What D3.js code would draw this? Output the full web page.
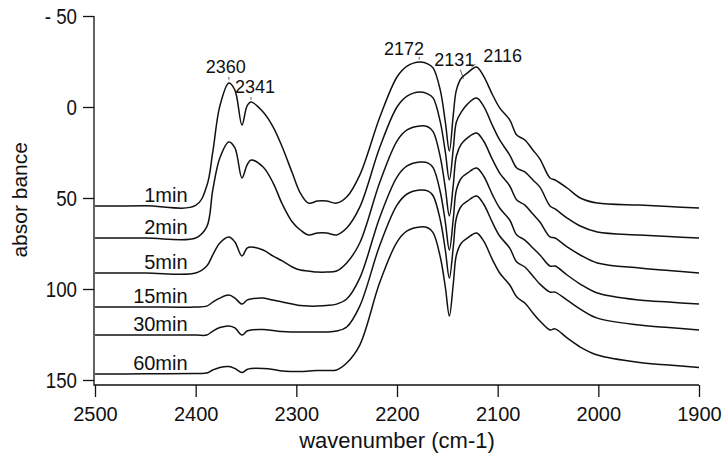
<!DOCTYPE html>
<html>
<head>
<meta charset="utf-8">
<script src="https://cdn.jsdelivr.net/npm/d3@7"></script>
<style>
  body { margin: 0; background: #fff; }
  svg text { font-family: "Liberation Sans", Arial, Helvetica, sans-serif; fill: #111; }
</style>
</head>
<body>
<div id="chart"></div>
<script>
// wavenumber grid (cm-1), shared by every spectrum
var wavenumbers = [2500, 2450, 2400, 2389, 2383, 2376, 2367, 2361, 2354, 2349, 2345,
                   2333, 2323, 2314, 2304, 2296, 2288, 2279, 2270, 2260, 2250,
                   2237, 2217, 2200, 2190, 2177, 2169, 2164, 2157, 2152, 2148,
                   2144, 2141, 2136, 2130, 2121, 2114, 2105, 2098, 2088, 2081,
                   2073, 2065, 2058, 2048, 2043, 2031, 2018, 2001, 1959, 1930, 1900];

var timeLabels = ["1min", "2min", "5min", "15min", "30min", "60min"];

// absorbance (plotted with offsets, axis inverted)
var abs1min = [54.4, 54.3, 54.1, 43.4, 24.7, -0.5, -13.2, -9.3, 9.9, -0.5, -2.7,
               2.7, 11.0, 22.0, 36.3, 47.3, 52.8, 51.7, 51.7, 52.8, 49.5,
               37.4, 5.5, -16.5, -22.5, -24.7, -23.6, -21.4, -9.3, 8.2, 24.2,
               3.8, -9.3, -15.9, -18.7, -22.0, -17.0, -6.6, 0.5, 7.1, 15.4,
               18.1, 23.6, 28.6, 39.0, 40.1, 44.5, 50.0, 52.8, 53.9, 54.7, 55.5];
var abs2min = [72.0, 72.0, 72.0, 65.9, 45.6, 28.0, 19.2, 22.5, 39.0, 31.9, 29.1,
               33.0, 41.8, 53.3, 63.2, 67.6, 70.3, 69.2, 69.2, 70.3, 66.5,
               55.0, 22.0, 0.0, -6.0, -8.2, -7.1, -4.9, 8.2, 24.7, 40.1,
               22.5, 8.2, 2.7, -1.6, -4.9, -0.5, 10.4, 18.1, 26.4, 33.5,
               35.7, 40.1, 44.0, 54.4, 56.0, 61.0, 65.4, 68.7, 70.3, 71.2, 72.0];
var abs5min = [91.2, 91.2, 91.2, 87.4, 81.3, 74.7, 71.4, 74.2, 81.9, 77.5, 76.9,
               78.6, 81.9, 84.6, 87.9, 89.6, 90.1, 90.7, 90.7, 90.1, 85.7,
               74.7, 41.2, 18.7, 12.6, 10.4, 11.0, 13.7, 27.5, 44.5, 59.9,
               42.3, 26.9, 20.3, 17.0, 14.3, 18.7, 29.1, 36.3, 43.4, 51.1,
               53.9, 58.8, 63.2, 71.4, 72.0, 76.9, 81.3, 85.7, 88.5, 89.9, 91.2];
var abs15min = [109.9, 109.9, 109.9, 109.4, 107.2, 105.0, 103.3, 105.0, 108.3, 106.1, 105.5,
                105.0, 106.1, 107.2, 108.3, 109.1, 109.4, 109.4, 109.1, 108.3, 105.5,
                94.0, 60.4, 38.5, 32.4, 30.2, 30.8, 33.5, 46.7, 63.2, 78.6,
                61.0, 45.6, 39.0, 36.3, 33.5, 37.9, 48.4, 55.5, 62.1, 70.3,
                73.1, 77.5, 81.3, 87.4, 87.4, 92.3, 97.3, 102.2, 106.1, 107.2, 108.3];
var abs30min = [125.3, 125.3, 125.3, 125.3, 123.1, 121.2, 120.3, 121.4, 125.3, 123.1, 122.5,
                122.3, 122.8, 123.4, 123.6, 123.6, 123.6, 123.6, 123.6, 123.1, 120.9,
                109.4, 75.8, 53.9, 47.8, 45.6, 46.2, 48.9, 62.1, 78.6, 94.0,
                76.4, 61.0, 54.4, 51.7, 48.9, 53.3, 63.7, 70.9, 77.5, 85.2,
                87.9, 92.9, 97.3, 101.7, 101.7, 106.1, 111.0, 116.0, 119.8, 121.2, 122.5];
var abs60min = [146.7, 146.6, 146.4, 146.2, 144.5, 143.1, 142.6, 143.7, 145.9, 144.2, 143.7,
                143.7, 144.2, 145.1, 145.3, 145.3, 145.1, 144.8, 144.8, 144.5, 140.7,
                130.8, 96.2, 74.2, 68.1, 65.9, 66.5, 69.2, 82.4, 98.9, 114.8,
                96.7, 81.3, 74.7, 72.0, 69.2, 73.6, 84.1, 91.2, 97.8, 104.4,
                107.7, 113.2, 117.6, 122.5, 121.9, 126.9, 131.9, 136.3, 140.4, 141.8, 143.1];

var xTicks = [2500, 2400, 2300, 2200, 2100, 2000, 1900];
var yTicks = [-50, 0, 50, 100, 150];
var peakLabels = ["2360", "2341", "2172", "2131", "2116"];

var w = 725,
    h = 458;

var svg = d3.select("#chart")
    .append("svg")
    .attr("width", w)
    .attr("height", h);

var x = d3.scaleLinear().domain([2500, 1900]).range([95, 699]);
var y = d3.scaleLinear().domain([-50, 150]).range([16, 380]);
var axisY = 385;

// axes
var gx = svg.append("g")
    .attr("transform", "translate(0," + axisY + ")")
    .call(d3.axisBottom(x).tickValues(xTicks).tickSize(12).tickFormat(d3.format("d")));
gx.select(".domain").remove();
gx.selectAll("line").attr("stroke", "#111").attr("stroke-width", 1.3);
gx.selectAll("text")
    .attr("y", 22)
    .attr("font-size", 20);

var gy = svg.append("g")
    .attr("transform", "translate(94,0)")
    .call(d3.axisLeft(y).tickValues(yTicks).tickSize(11)
        .tickFormat(function(d) { return d < 0 ? "- " + Math.abs(d) : d; }));
gy.select(".domain").remove();
gy.selectAll("line").attr("stroke", "#111").attr("stroke-width", 1.3);
gy.selectAll("text")
    .attr("font-size", 22)
    .attr("x", -17 / 0.85)
    .attr("dy", "0.36em")
    .attr("transform", "scale(0.85,1)");

// axis lines (L shape)
svg.append("path")
    .attr("d", "M94," + y(-50) + "V" + axisY + "H" + x(1900))
    .attr("fill", "none")
    .attr("stroke", "#111")
    .attr("stroke-width", 1.3);

svg.append("text")
    .attr("x", (x(2500) + x(1900)) / 2)
    .attr("y", 448)
    .attr("text-anchor", "middle")
    .attr("font-size", 22)
    .text("wavenumber (cm-1)");

svg.append("text")
    .attr("transform", "translate(27," + y(51) + ") rotate(-90)")
    .attr("text-anchor", "middle")
    .attr("font-size", 21)
    .text("absor bance");

// spectra
var series = [abs1min, abs2min, abs5min, abs15min, abs30min, abs60min];

var line = d3.line()
    .x(function(d, i) { return x(wavenumbers[i]); })
    .y(function(d) { return y(d); })
    .curve(d3.curveCatmullRom.alpha(0.5));

svg.selectAll("path.spec")
    .data(series)
    .enter()
    .append("path")
    .attr("class", "spec")
    .attr("d", line)
    .attr("fill", "none")
    .attr("stroke", "#111")
    .attr("stroke-width", 1.5);

// time labels just above each baseline
svg.selectAll("text.tl")
    .data(series)
    .enter()
    .append("text")
    .attr("class", "tl")
    .attr("x", x(2408))
    .attr("y", function(d) { return y(d[0]) - 4; })
    .attr("text-anchor", "end")
    .attr("font-size", 20)
    .text(function(d, i) { return timeLabels[i]; });

// peak annotations
var peakPos = [[2370, -18.5], [2341, -7.5], [2193, -28.5], [2143, -22.5], [2095, -25]];
var leaders = [[2367, -16.5, 2367, -15], [2345, -5.5, 2345, -4],
               [2178, -27.5, 2178, -26], [2137, -20.5, 2134, -15.5], [2122, -23.5, 2126, -22]];

svg.selectAll("text.pk")
    .data(peakLabels)
    .enter()
    .append("text")
    .attr("class", "pk")
    .attr("x", function(d, i) { return x(peakPos[i][0]); })
    .attr("y", function(d, i) { return y(peakPos[i][1]); })
    .attr("text-anchor", "middle")
    .attr("font-size", 18)
    .text(function(d) { return d; });

svg.selectAll("line.ld")
    .data(leaders)
    .enter()
    .append("line")
    .attr("class", "ld")
    .attr("x1", function(d) { return x(d[0]); })
    .attr("y1", function(d) { return y(d[1]); })
    .attr("x2", function(d) { return x(d[2]); })
    .attr("y2", function(d) { return y(d[3]); })
    .attr("stroke", "#333")
    .attr("stroke-width", 0.8);
</script>
</body>
</html>
